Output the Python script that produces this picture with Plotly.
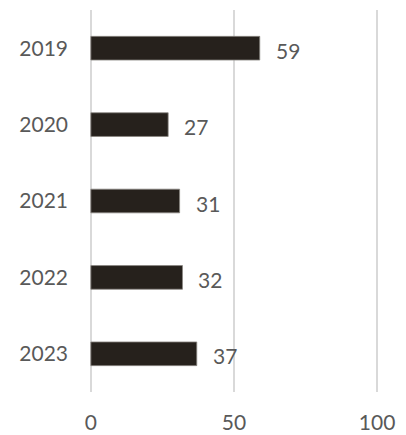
import plotly.graph_objects as go

years = ["2019", "2020", "2021", "2022", "2023"]
values = [59, 27, 31, 32, 37]
x_ticks = [0, 50, 100]

font_family = "Lato, 'Open Sans', sans-serif"
text_color = "#595959"

fig = go.Figure(
    go.Bar(
        x=values,
        y=years,
        orientation="h",
        width=0.31,
        marker=dict(color="#26211c", line=dict(color="#8a8782", width=0.8)),
        hoverinfo="skip",
    )
)

# value labels to the right of each bar end (y given as category index)
for i, v in enumerate(values):
    fig.add_annotation(
        x=v, y=i, text=str(v), showarrow=False,
        xanchor="left", yanchor="middle", xshift=14, yshift=-2,
        font=dict(family=font_family, size=21, color=text_color),
    )

fig.update_layout(
    width=406, height=435,
    margin=dict(l=88, r=26, t=10, b=43),
    paper_bgcolor="white", plot_bgcolor="white",
    showlegend=False,
    font=dict(family=font_family, size=21, color=text_color),
)
fig.update_xaxes(
    range=[-1, 101], tickvals=x_ticks, ticktext=[str(t) for t in x_ticks],
    showgrid=True, gridcolor="#d9d9d9", gridwidth=1.5,
    zeroline=False, showline=False, ticks="",
    ticklabelstandoff=16, automargin=False,
)
fig.update_yaxes(
    type="category", categoryorder="array", categoryarray=years,
    range=[4.5, -0.5],
    showgrid=False, zeroline=False, showline=False, ticks="",
    ticklabelstandoff=19, automargin=False,
)

fig.write_html("out.html")
